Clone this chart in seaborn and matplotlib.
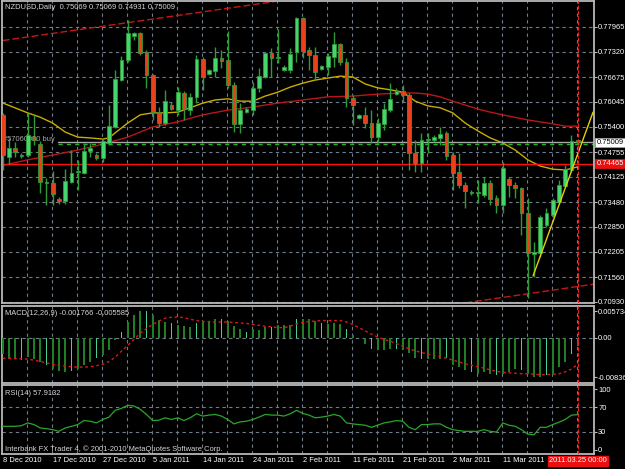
import matplotlib
matplotlib.use("Agg")
import matplotlib.pyplot as plt
import matplotlib.transforms as mtransforms
import seaborn as sns
import numpy as np

# NZDUSD daily candles, 8 Dec 2010 .. 25 Mar 2011 (one entry per bar)
opens = [0.7571, 0.7463, 0.7486, 0.7466, 0.7468, 0.7514, 0.7496, 0.7397, 0.7397, 0.7356,
         0.7351, 0.7399, 0.7425, 0.7422, 0.7478, 0.7468, 0.7461, 0.7499, 0.7540, 0.7660,
         0.7711, 0.7773, 0.7780, 0.7732, 0.7673, 0.7578, 0.7550, 0.7596, 0.7583, 0.7627,
         0.7583, 0.7617, 0.7714, 0.7675, 0.7683, 0.7716, 0.7711, 0.7647, 0.7548, 0.7578,
         0.7583, 0.7640, 0.7668, 0.7729, 0.7716, 0.7686, 0.7686, 0.7732, 0.7819, 0.7737,
         0.7724, 0.7688, 0.7693, 0.7719, 0.7752, 0.7706, 0.7614, 0.7563, 0.7571, 0.7550,
         0.7514, 0.7548, 0.7583, 0.7624, 0.7632, 0.7622, 0.7473, 0.7448, 0.7507, 0.7507,
         0.7512, 0.7525, 0.7468, 0.7425, 0.7392, 0.7371, 0.7371, 0.7366, 0.7397, 0.7358,
         0.7340, 0.7407, 0.7392, 0.7384, 0.7320, 0.7215, 0.7218, 0.7289, 0.7315, 0.7348,
         0.7389, 0.7430, 0.75069]
highs = [0.7576, 0.7512, 0.7502, 0.7473, 0.7576, 0.7571, 0.7504, 0.7409, 0.7427, 0.7361,
         0.7432, 0.7481, 0.7456, 0.7499, 0.7499, 0.7473, 0.7512, 0.7596, 0.7686, 0.7722,
         0.7814, 0.7783, 0.7783, 0.7737, 0.7675, 0.7591, 0.7635, 0.7604, 0.7642, 0.7632,
         0.7627, 0.7724, 0.7719, 0.7688, 0.7745, 0.7737, 0.7785, 0.7655, 0.7601, 0.7591,
         0.7655, 0.7691, 0.7732, 0.7742, 0.7791, 0.7698, 0.7742, 0.7821, 0.7821, 0.7745,
         0.7745, 0.7698, 0.7729, 0.7783, 0.7755, 0.7716, 0.7622, 0.7573, 0.7591, 0.7583,
         0.7563, 0.7601, 0.7652, 0.7640, 0.7647, 0.7627, 0.7507, 0.7525, 0.7525, 0.7519,
         0.7540, 0.7530, 0.7476, 0.7473, 0.7399, 0.7379, 0.7404, 0.7412, 0.7404, 0.7366,
         0.7450, 0.7412, 0.7399, 0.7386, 0.7358, 0.7246, 0.7315, 0.7333, 0.7358, 0.7404,
         0.7443, 0.7519, 0.75069]
lows = [0.7430, 0.7445, 0.7463, 0.7461, 0.7463, 0.7494, 0.7371, 0.7340, 0.7340, 0.7343,
        0.7343, 0.7397, 0.7379, 0.7420, 0.7463, 0.7456, 0.7450, 0.7494, 0.7537, 0.7658,
        0.7706, 0.7762, 0.7724, 0.7640, 0.7558, 0.7540, 0.7545, 0.7583, 0.7571, 0.7558,
        0.7571, 0.7601, 0.7635, 0.7673, 0.7668, 0.7691, 0.7640, 0.7527, 0.7525, 0.7576,
        0.7571, 0.7629, 0.7665, 0.7668, 0.7704, 0.7683, 0.7678, 0.7706, 0.7716, 0.7686,
        0.7660, 0.7686, 0.7673, 0.7693, 0.7698, 0.7591, 0.7545, 0.7560, 0.7537, 0.7499,
        0.7499, 0.7532, 0.7578, 0.7622, 0.7604, 0.7430, 0.7425, 0.7425, 0.7473, 0.7502,
        0.7494, 0.7456, 0.7379, 0.7384, 0.7333, 0.7366, 0.7346, 0.7361, 0.7340, 0.7320,
        0.7320, 0.7361, 0.7358, 0.7264, 0.7102, 0.7156, 0.7207, 0.7284, 0.7310, 0.7346,
        0.7386, 0.7425, 0.74931]
closes = [0.7468, 0.7486, 0.7476, 0.7468, 0.7519, 0.7507, 0.7399, 0.7399, 0.7369, 0.7351,
          0.7402, 0.7422, 0.7427, 0.7478, 0.7486, 0.7461, 0.7504, 0.7542, 0.7663, 0.7711,
          0.7780, 0.7780, 0.7729, 0.7673, 0.7578, 0.7550, 0.7606, 0.7586, 0.7629, 0.7586,
          0.7617, 0.7714, 0.7668, 0.7686, 0.7716, 0.7709, 0.7647, 0.7548, 0.7583, 0.7586,
          0.7640, 0.7670, 0.7729, 0.7716, 0.7718, 0.7693, 0.7727, 0.7819, 0.7734, 0.7724,
          0.7681, 0.7696, 0.7722, 0.7752, 0.7706, 0.7614, 0.7596, 0.7571, 0.7550, 0.7514,
          0.7550, 0.7586, 0.7612, 0.7632, 0.7622, 0.7473, 0.7448, 0.7507, 0.7509, 0.7514,
          0.7522, 0.7466, 0.7422, 0.7392, 0.7376, 0.7374, 0.7374, 0.7397, 0.7356, 0.7340,
          0.7435, 0.7392, 0.7384, 0.7320, 0.7218, 0.7220, 0.7310, 0.7320, 0.7353, 0.7392,
          0.7432, 0.7504, 0.75009]

# moving averages (bar index, price)
ma_fast_bar = [-0.4, 4, 6, 8, 10, 12, 14, 16, 17, 18, 20, 22, 24, 26, 28, 30, 32, 34, 36, 38,
               40, 42, 44, 46, 48, 50, 52, 54, 56, 58, 60, 62, 64, 66, 68, 70, 72, 74, 76, 78,
               80, 82, 84, 86, 88, 90, 92]
ma_fast = [0.7604, 0.7576, 0.7565, 0.7550, 0.7527, 0.7514, 0.7512, 0.7509, 0.7512, 0.7525,
           0.7550, 0.7571, 0.7576, 0.7576, 0.7578, 0.7589, 0.7601, 0.7609, 0.7612, 0.7606,
           0.7606, 0.7619, 0.7629, 0.7642, 0.7652, 0.7660, 0.7665, 0.7670, 0.7668, 0.7650,
           0.7640, 0.7635, 0.7629, 0.7606, 0.7594, 0.7589, 0.7576, 0.7550, 0.7530, 0.7512,
           0.7499, 0.7481, 0.7456, 0.7440, 0.7432, 0.7430, 0.7438]
ma_slow_bar = [-0.4, 4, 8, 12, 16, 20, 24, 28, 32, 36, 40, 44, 48, 52, 56, 60, 64, 66, 68, 70,
               72, 74, 76, 78, 80, 84, 88, 90, 92]
ma_slow = [0.7440, 0.7456, 0.7468, 0.7481, 0.7496, 0.7514, 0.7540, 0.7553, 0.7571, 0.7583,
           0.7591, 0.7601, 0.7609, 0.7617, 0.7619, 0.7624, 0.7627, 0.7627, 0.7624, 0.7617,
           0.7606, 0.7596, 0.7586, 0.7578, 0.7571, 0.7558, 0.7548, 0.7542, 0.7542]

# trend lines (bar index pairs, price pairs)
upper_channel_bar = [0, 43.6]
upper_channel = [0.7761, 0.7861]
lower_channel_bar = [74, 94.6]
lower_channel = [0.7090, 0.7138]
support_bar = [84.85, 94.45]
support = [0.7159, 0.7578]

bid = 0.75009
order_price = 0.74975
stop_level = 0.74465

macd_hist = [-0.00335, -0.00441, -0.00441, -0.00477, -0.00406, -0.00441, -0.00513, -0.00584, -0.00655, -0.00712,
             -0.00726, -0.00712, -0.00669, -0.00584, -0.00504, -0.00425, -0.00360, -0.00255, -0.00050, 0.00120,
             0.00347, 0.00490, 0.00574, 0.00573, 0.00490, 0.00383, 0.00347, 0.00312, 0.00280, 0.00255,
             0.00240, 0.00326, 0.00369, 0.00369, 0.00404, 0.00410, 0.00369, 0.00255, 0.00184, 0.00120,
             0.00199, 0.00164, 0.00235, 0.00235, 0.00285, 0.00271, 0.00285, 0.00413, 0.00413, 0.00399,
             0.00356, 0.00320, 0.00306, 0.00320, 0.00306, 0.00199, 0.00071, -0.00010, -0.00121, -0.00228,
             -0.00263, -0.00263, -0.00242, -0.00228, -0.00263, -0.00313, -0.00427, -0.00441, -0.00456, -0.00456,
             -0.00441, -0.00427, -0.00570, -0.00619, -0.00691, -0.00726, -0.00762, -0.00726, -0.00776, -0.00797,
             -0.00762, -0.00726, -0.00669, -0.00691, -0.00762, -0.00836, -0.00833, -0.00797, -0.00783, -0.00619,
             -0.00513, -0.00335, -0.001766]
macd_signal = [-0.0043, -0.0043, -0.0044, -0.0044, -0.0045, -0.0047, -0.0050, -0.0053, -0.0056, -0.0058,
               -0.0060, -0.0061, -0.0062, -0.0062, -0.0061, -0.0059, -0.0056, -0.0050, -0.0041, -0.0028,
               -0.0016, -0.0003, 0.0010, 0.0020, 0.0029, 0.0036, 0.0042, 0.0044, 0.0045, 0.0043,
               0.0040, 0.0037, 0.0035, 0.0035, 0.0034, 0.0034, 0.0034, 0.0033, 0.0032, 0.0031,
               0.0029, 0.0027, 0.0025, 0.0024, 0.0022, 0.0022, 0.0025, 0.0030, 0.0033, 0.0035,
               0.0036, 0.0037, 0.0037, 0.0037, 0.0037, 0.0034, 0.0029, 0.0022, 0.0015, 0.0008,
               0.0002, -0.0003, -0.0007, -0.0012, -0.0017, -0.0023, -0.0027, -0.0031, -0.0034, -0.0037,
               -0.0040, -0.0043, -0.0047, -0.0051, -0.0055, -0.0058, -0.0061, -0.0064, -0.0068, -0.0071,
               -0.0073, -0.0074, -0.0075, -0.0076, -0.0076, -0.0077, -0.0078, -0.0078, -0.0077, -0.0076,
               -0.0072, -0.0066, -0.005585]
rsi = [38.8, 38.8, 38.8, 39.9, 44.4, 41.7, 36.1, 35.0, 33.3, 30.6,
       36.1, 38.8, 41.7, 48.3, 47.2, 44.4, 50.0, 53.9, 65.0, 68.3,
       73.3, 72.2, 66.7, 58.3, 48.3, 48.9, 52.8, 50.0, 52.8, 48.3,
       52.8, 59.4, 55.6, 57.2, 58.3, 55.6, 50.0, 42.8, 46.1, 47.2,
       50.0, 53.9, 58.3, 57.2, 57.2, 55.6, 59.4, 65.0, 60.0, 57.2,
       52.8, 53.9, 55.6, 58.3, 55.6, 44.4, 42.8, 41.7, 40.6, 37.2,
       40.6, 44.4, 46.1, 48.3, 47.2, 37.2, 33.3, 41.7, 41.7, 42.8,
       42.8, 37.2, 33.3, 31.7, 30.6, 30.6, 30.6, 33.3, 30.6, 29.4,
       44.4, 40.6, 38.9, 33.3, 26.1, 25.0, 37.2, 37.2, 41.7, 45.6,
       50.0, 57.2, 57.9132]

price_ticks = [0.77965, 0.77320, 0.76675, 0.76045, 0.75400, 0.74755,
               0.74125, 0.73480, 0.72850, 0.72205, 0.71560, 0.70930]
macd_ticks = [0.005734, 0.0, -0.008363]
macd_tick_labels = ["0.005734", "0.00", "-0.008363"]
rsi_ticks = [100, 70, 30, 0]
date_bars = [0, 8, 16, 24, 32, 40, 48, 56, 64, 72, 80]
date_labels = ["8 Dec 2010", "17 Dec 2010", "27 Dec 2010", "5 Jan 2011", "14 Jan 2011",
               "24 Jan 2011", "2 Feb 2011", "11 Feb 2011", "21 Feb 2011", "2 Mar 2011",
               "11 Mar 2011"]
last_bar_label = "2011.03.25 00:00"

sns.set_style("dark", {"axes.facecolor": "black", "figure.facecolor": "black"})
plt.rcParams["font.family"] = ["Liberation Sans", "DejaVu Sans"]

W, H = 625, 469
fig = plt.figure(figsize=(W / 100, H / 100), dpi=100, facecolor="black")
left, right = 2, 594
ax = fig.add_axes([left / W, 1 - 303 / H, (right - left) / W, 302 / H])
ax_m = fig.add_axes([left / W, 1 - 383 / H, (right - left) / W, 77 / H])
ax_r = fig.add_axes([left / W, 1 - 454 / H, (right - left) / W, 69 / H])

n = len(closes)
x = np.arange(n)
xlim = (-0.11, 94.6)
grid_c = "#6f7c8a"
grid_ls = (0, (3, 3))
fs = 5.4

for a in (ax, ax_m, ax_r):
    a.set_facecolor("black")
    a.set_xlim(*xlim)
    for s in a.spines.values():
        s.set_color("#b8b8b8")
        s.set_linewidth(1.3)
    a.yaxis.tick_right()
    a.tick_params(axis="y", colors="#b8b8b8", labelcolor="white", labelsize=fs,
                  length=2, pad=1.0, direction="out")
    a.tick_params(axis="x", bottom=False, labelbottom=False)
    a.grid(False)
    for k in range(1, 24):
        a.axvline(4 * k - 0.11, color=grid_c, ls=grid_ls, lw=0.8, zorder=0)
    a.axvline(92, color="#e82020", ls=(0, (4, 1.5)), lw=0.7, zorder=6)

# ---- price panel
ax.set_ylim(0.70897, 0.78622)
ax.set_yticks(price_ticks)
ax.set_yticklabels([f"{v:.5f}" for v in price_ticks])
for v in price_ticks:
    ax.axhline(v, color=grid_c, ls=grid_ls, lw=0.8, zorder=0)

o, hi, lo, c = map(np.array, (opens, highs, lows, closes))
up = c >= o
wick = "#2f9a3a"
fills = np.where(up, "#46d46c", "#e8421c")
ax.vlines(x, lo, hi, color=wick, lw=1.0, zorder=3)
ax.bar(x, np.maximum(np.abs(c - o), 0.00006), bottom=np.minimum(o, c), width=0.62,
       color=fills, edgecolor=wick, linewidth=0.6, zorder=4)

sns.lineplot(x=ma_slow_bar, y=ma_slow, ax=ax, color="#b8161a", lw=1.0, sort=False, zorder=2)
sns.lineplot(x=ma_fast_bar, y=ma_fast, ax=ax, color="#c9ad00", lw=1.0, sort=False, zorder=2)
ax.plot(upper_channel_bar, upper_channel, color="#c21818", lw=1.0, ls=(0, (5, 2)), zorder=2)
ax.plot(lower_channel_bar, lower_channel, color="#c21818", lw=1.0, ls=(0, (5, 2)), zorder=2)
ax.plot(support_bar, support, color="#e6d000", lw=1.0, zorder=5)

ax.axhline(stop_level, color="#ff1010", lw=1.0, zorder=2)
ax.axhline(order_price, xmin=0.0946, color="#22b822", lw=1.0, ls=(0, (3, 3)), zorder=2)
ax.axhline(bid, xmin=0.0946, color="#a8a8a8", lw=1.0, zorder=2)

ax.text(0.005, 0.977, "NZDUSD,Daily  0.75069 0.75069 0.74931 0.75009", transform=ax.transAxes,
        color="#d8d8d8", fontsize=fs, va="center", ha="left", zorder=7)
ax.text(4 / 592 + 0.004, 0.7509, "#57060050 buy", color="#a8a8a8", fontsize=fs,
        va="center", ha="left", zorder=3.5)

tr = mtransforms.blended_transform_factory(ax.transAxes, ax.transData)
ax.text(1.004, bid, f"{bid:.5f}", transform=tr, color="black", fontsize=fs, va="center",
        ha="left", zorder=8, clip_on=False,
        bbox=dict(boxstyle="square,pad=0.15", fc="white", ec="#a0a0a0", lw=0.6))
ax.text(1.004, stop_level, f"{stop_level:.5f}", transform=tr, color="white", fontsize=fs,
        va="center", ha="left", zorder=8, clip_on=False,
        bbox=dict(boxstyle="square,pad=0.15", fc="#e81010", ec="#e81010", lw=0.6))

# ---- MACD panel
ax_m.set_ylim(-0.00957, 0.00680)
ax_m.set_yticks(macd_ticks)
ax_m.set_yticklabels(macd_tick_labels)
ax_m.axhline(0, color=grid_c, ls=grid_ls, lw=0.8, zorder=0)
light = (x % 4 == 3)
ax_m.bar(x, macd_hist, width=np.where(light, 0.2, 0.36),
         color=np.where(light, "#45d09a", "#1f7f22"), edgecolor="none", linewidth=0, zorder=3)
sns.lineplot(x=x, y=macd_signal, ax=ax_m, color="#d81818", lw=1.0,
             linestyle=(0, (2, 2)), zorder=4)
ax_m.text(0.005, 0.905, "MACD(12,26,9) -0.001766 -0.005585", transform=ax_m.transAxes,
          color="#d8d8d8", fontsize=fs, va="center", ha="left")

# ---- RSI panel
ax_r.set_ylim(-6.6, 106.6)
ax_r.set_yticks(rsi_ticks)
ax_r.set_yticklabels([str(v) for v in rsi_ticks])
for v in (70, 30):
    ax_r.axhline(v, color=grid_c, ls=grid_ls, lw=0.8, zorder=0)
sns.lineplot(x=x, y=rsi, ax=ax_r, color="#2aa62a", lw=0.9, zorder=3)
ax_r.text(0.005, 0.884, "RSI(14) 57.9132", transform=ax_r.transAxes,
          color="#d8d8d8", fontsize=fs, va="center", ha="left")
ax_r.text(0.005, 0.075, "Interbank FX Trader 4, \u00a9 2001-2010 MetaQuotes Software Corp.",
          transform=ax_r.transAxes, color="#d8d8d8", fontsize=fs, va="center", ha="left")

trx = mtransforms.blended_transform_factory(ax_r.transData, ax_r.transAxes)
for b, lab in zip(date_bars, date_labels):
    ax_r.text(b + 0.05, -0.10, lab, transform=trx, color="white", fontsize=fs,
              va="center", ha="left", clip_on=False)
ax_r.text(92, -0.10, last_bar_label, transform=trx, color="white", fontsize=fs,
          va="center", ha="center", clip_on=False,
          bbox=dict(boxstyle="square,pad=0.15", fc="#e81010", ec="#e81010"))

for a in (ax, ax_m, ax_r):
    a.set_xlabel("")
    a.set_ylabel("")
    if a.get_legend():
        a.get_legend().remove()

fig.savefig("out.png", dpi=100, facecolor="black")
